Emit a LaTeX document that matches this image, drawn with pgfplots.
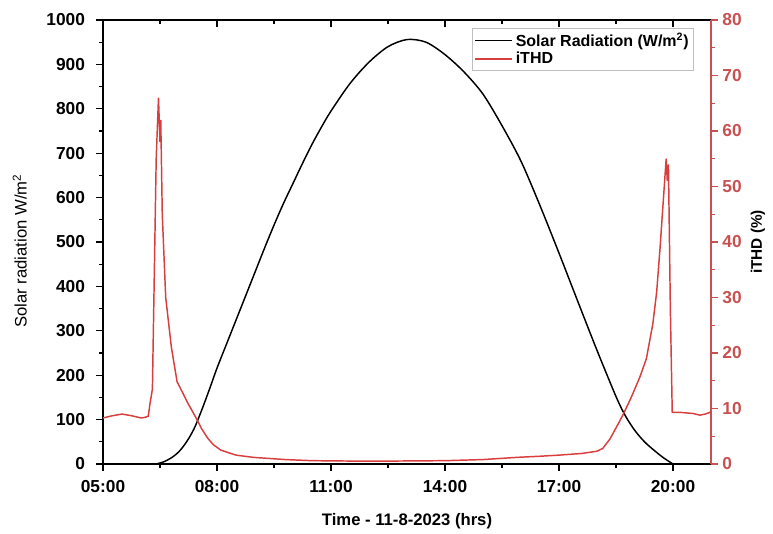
\documentclass[border=0pt]{standalone}
\usepackage{fontspec}
\setmainfont{Liberation Sans}
\usepackage{pgfplots}
\pgfplotsset{compat=1.18}
\definecolor{thdred}{RGB}{216,62,62}
\definecolor{axred}{RGB}{200,80,80}

\begin{document}
\begin{tikzpicture}
\pgfplotsset{
  every axis/.append style={
    scale only axis, width=456pt, height=333pt,
    xmin=5, xmax=21,
    /pgf/number format/assume math mode=true,
    /pgf/number format/1000 sep={},
    tick label style={font=\fontsize{13}{15}\selectfont\bfseries},
    label style={font=\fontsize{12.5}{14}\selectfont\bfseries},
    major tick length=5pt, minor tick length=3pt,
    axis line style={line width=0.8pt},
    every tick/.style={line width=0.8pt, black},
  }
}
\begin{axis}[
  axis x line*=bottom, axis y line*=left,
  ymin=0, ymax=1000,
  xtick={5,8,11,14,17,20},
  xticklabels={05:00,08:00,11:00,14:00,17:00,20:00},
  minor x tick num=1,
  ytick={0,100,...,1000},
  minor y tick num=1,
  tick align=outside,
  xticklabel style={yshift=-4pt},
  yticklabel style={xshift=-5pt},
  xlabel={Time - 11-8-2023 (hrs)},
  xlabel style={at={(axis description cs:0.5,-0.128)}, anchor=center},
  ylabel={Solar radiation W/m\textsuperscript{2}},
  ylabel style={font=\fontsize{12.5}{14}\selectfont, at={(axis description cs:-0.137,0.48)}, anchor=center},
]
\addplot[black, line width=1.1pt, smooth, tension=0.5] coordinates {
(6.4,0) (6.6,5) (6.8,14) (7.0,28) (7.2,50) (7.4,80) (7.6,122) (7.8,168)
(8.0,216) (8.25,270) (8.5,324) (8.75,378) (9.0,432) (9.25,486) (9.5,538)
(9.75,587) (10.0,632) (10.25,677) (10.5,720) (10.75,759) (11.0,795)
(11.5,857) (12.0,905) (12.5,940) (13.0,956) (13.5,950) (14.0,922)
(14.5,883) (15.0,833) (15.5,762) (16.0,682) (16.5,582) (17.0,475)
(17.5,365) (18.0,256) (18.5,152) (18.75,108) (19.0,75) (19.25,50)
(19.5,31) (19.75,14) (20.0,0)
};
\end{axis}
\begin{axis}[
  axis x line*=top, axis y line=none,
  ymin=0, ymax=1000,
  xtick={5,8,11,14,17,20},
  xticklabels={},
  minor x tick num=1,
  tick align=inside,
]
\end{axis}
\begin{axis}[
  axis x line=none, axis y line*=right,
  ymin=0, ymax=80,
  ytick={0,10,...,80},
  minor y tick num=1,
  tick align=outside,
  y axis line style={axred, line width=0.8pt},
  every tick/.style={line width=0.8pt, axred},
  yticklabel style={text=axred},
  ylabel={iTHD (\%)},
  ylabel style={font=\fontsize{11.5}{13}\selectfont\bfseries},
  legend style={at={(0.607,0.982)}, anchor=north west, draw=gray!50, fill=white,
    font=\fontsize{12}{14}\selectfont\bfseries, inner sep=1.5pt, row sep=-1pt},
  legend cell align=left,
  legend image code/.code={\draw[#1] (0pt,0pt) -- (28pt,0pt);},
]
\addlegendimage{black, line width=1.1pt}
\addlegendentry{Solar Radiation (W/m\textsuperscript{2})}
\addplot[thdred, line width=1.1pt] coordinates {
(5.0,8.3) (5.25,8.7) (5.5,9.0) (5.75,8.7) (6.0,8.3) (6.1,8.4) (6.19,8.6)
(6.24,11) (6.3,13.5) (6.34,30) (6.4,55) (6.46,66) (6.5,58) (6.52,62) (6.56,45)
(6.65,30) (6.8,21) (6.95,14.8) (7.1,12.8) (7.23,11) (7.45,8.3) (7.6,6.3)
(7.75,4.7) (7.9,3.5) (8.1,2.5) (8.5,1.6) (8.95,1.2) (9.8,0.8) (10.5,0.6)
(12,0.5) (14,0.6) (15,0.8) (15.9,1.2) (16.5,1.4) (17.0,1.6) (17.6,1.9)
(18.0,2.3) (18.15,2.8) (18.25,3.7) (18.34,4.5) (18.5,6.5) (18.68,8.8)
(18.9,12) (19.13,15.7) (19.3,19) (19.47,25.3) (19.57,31) (19.66,39)
(19.75,48) (19.82,55) (19.85,51) (19.88,54) (19.93,28) (19.98,9.3)
(20.2,9.3) (20.53,9.1) (20.71,8.8) (20.85,9.0) (21.0,9.4)
};
\addlegendentry{iTHD}
\end{axis}
\pgfresetboundingbox
\path (current axis.south west) ++(-77.25pt,-51.75pt) rectangle ++(579.75pt,399.75pt);
\end{tikzpicture}
\end{document}
